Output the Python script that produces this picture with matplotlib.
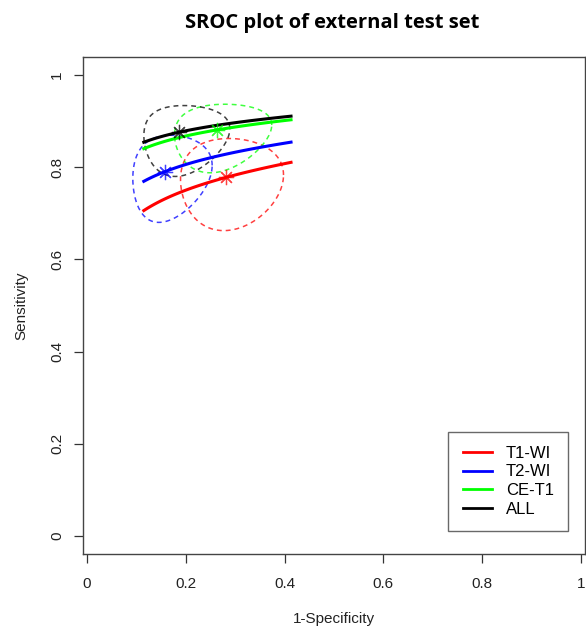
import numpy as np
import matplotlib
matplotlib.use("Agg")
import matplotlib.pyplot as plt
from matplotlib.ticker import FixedLocator, FixedFormatter

plt.rcParams["font.family"] = ["Liberation Sans", "DejaVu Sans"]

# groups and colours
labels = ["T1-WI", "T2-WI", "CE-T1", "ALL"]
colors = ["#ff0000", "#0000ff", "#00ff00", "#000000"]

# summary points (1-specificity, sensitivity)
fpr_sum  = [0.282, 0.157, 0.264, 0.187]
sens_sum = [0.778, 0.790, 0.881, 0.876]

# SROC slope in logit space and fpr range of the curves
sroc_slope = [0.342, 0.334, 0.337, 0.328]
fpr_range  = [0.115, 0.413]

# confidence regions in logit space: half widths and correlation
half_fpr  = [0.52, 0.60, 0.51, 0.57]
half_sens = [0.58, 0.57, 0.69, 0.69]
rho       = [0.05, 0.15, 0.15, 0.10]

xticks = [0, 0.2, 0.4, 0.6, 0.8, 1]
yticks = [0, 0.2, 0.4, 0.6, 0.8, 1]
tick_labels = ["0", "0.2", "0.4", "0.6", "0.8", "1"]


def logit(p):
    return np.log(p / (1 - p))


def expit(z):
    return 1 / (1 + np.exp(-z))


fig = plt.figure(figsize=(5.86, 6.30), dpi=100)
ax = fig.add_axes([83 / 586, 76 / 630, 502 / 586, 497 / 630])

t = np.linspace(0, 2 * np.pi, 300)
fgrid = np.linspace(fpr_range[0], fpr_range[1], 100)

for i in range(len(labels)):
    cx = logit(fpr_sum[i])
    cy = logit(sens_sum[i])

    # sroc curve
    ys = cy + sroc_slope[i] * (logit(fgrid) - cx)
    ax.plot(fgrid, expit(ys), color=colors[i], lw=2.2, label=labels[i], zorder=3)

    # confidence region
    ex = cx + half_fpr[i] * np.cos(t)
    ey = cy + half_sens[i] * (rho[i] * np.cos(t) + np.sqrt(1 - rho[i] ** 2) * np.sin(t))
    ax.plot(expit(ex), expit(ey), color=colors[i], lw=1.1, alpha=0.75,
            dashes=(3.2, 2.6), zorder=2)

    # summary point
    ax.plot(fpr_sum[i], sens_sum[i], marker=(8, 2, 0), ms=11, mew=0.9,
            color=colors[i], alpha=0.75, ls="none", zorder=4)

ax.set_xlim(-4 / 494, 498 / 494)
ax.set_ylim(-0.039, 1.039)

ax.xaxis.set_major_locator(FixedLocator(xticks))
ax.xaxis.set_major_formatter(FixedFormatter(tick_labels))
ax.yaxis.set_major_locator(FixedLocator(yticks))
ax.yaxis.set_major_formatter(FixedFormatter(tick_labels))
ax.tick_params(direction="out", length=6.5, width=0.9, colors="#333333",
               labelsize=11, labelcolor="#222222")
ax.tick_params(axis="x", pad=10)
ax.tick_params(axis="y", pad=7)
for lab in ax.get_yticklabels():
    lab.set_rotation(90)
    lab.set_va("center")
for s in ax.spines.values():
    s.set_color("#444444")
    s.set_linewidth(1.0)

ax.set_xlabel("1-Specificity", fontsize=11, color="#222222", labelpad=15)
ax.set_ylabel("Sensitivity", fontsize=11, color="#222222", labelpad=16)

fig.text(332 / 586, 1 - 23 / 630, "SROC plot of external test set",
         fontsize=14.5, fontweight="bold", family=["Open Sans", "DejaVu Sans"],
         ha="center", va="center")

leg = ax.legend(loc="lower right", bbox_to_anchor=(0.974, 0.011),
                bbox_transform=ax.transData, borderaxespad=0,
                fontsize=12, frameon=True, fancybox=False,
                handlelength=1.75, handletextpad=0.85, labelspacing=0.22,
                borderpad=0.85)
leg.get_frame().set_edgecolor("#444444")
leg.get_frame().set_linewidth(1.0)
for line in leg.get_lines():
    line.set_linewidth(2.0)

fig.savefig("out.png", dpi=100)
